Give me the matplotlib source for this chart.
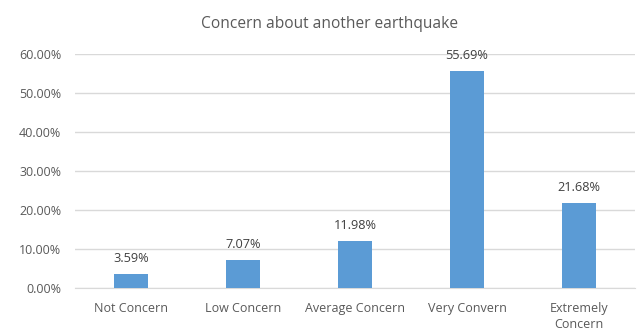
import matplotlib
matplotlib.use("Agg")
import matplotlib.pyplot as plt
from matplotlib.ticker import FuncFormatter

categories = ["Not Concern", "Low Concern", "Average Concern", "Very Convern", "Extremely\nConcern"]
values = [3.59, 7.07, 11.98, 55.69, 21.68]
yticks = [0, 10, 20, 30, 40, 50, 60]

plt.rcParams["font.family"] = ["Open Sans", "DejaVu Sans"]
text_color = "#595959"

fig = plt.figure(figsize=(6.37, 3.30), dpi=100)
ax = fig.add_axes([0.1177, 0.1273, 0.8793, 0.7091])

x = list(range(len(categories)))
bars = ax.bar(x, values, width=0.3, color="#5B9BD5", zorder=3)

for xi, v in zip(x, values):
    ax.annotate(f"{v:.2f}%", (xi, v), xytext=(0, 6.5), textcoords="offset points",
                ha="center", va="bottom", fontsize=9.2, color="#404040")

ax.set_xlim(-0.5, len(categories) - 0.5)
ax.set_ylim(0, 60)
ax.set_yticks(yticks)
ax.yaxis.set_major_formatter(FuncFormatter(lambda v, p: f"{v:.2f}%"))
ax.set_xticks(x)
ax.set_xticklabels(categories, linespacing=1.3)

ax.grid(axis="y", color="#D9D9D9", linewidth=1, zorder=0)
for s in ["top", "right", "left"]:
    ax.spines[s].set_visible(False)
ax.spines["bottom"].set_color("#D9D9D9")
ax.tick_params(axis="both", length=0, labelsize=9, colors=text_color)
ax.tick_params(axis="y", pad=10)
ax.tick_params(axis="x", pad=10)

fig.text(0.517, 0.927, "Concern about another earthquake", ha="center", va="center",
         fontsize=11.2, color=text_color)

fig.savefig("out.png", dpi=100)
